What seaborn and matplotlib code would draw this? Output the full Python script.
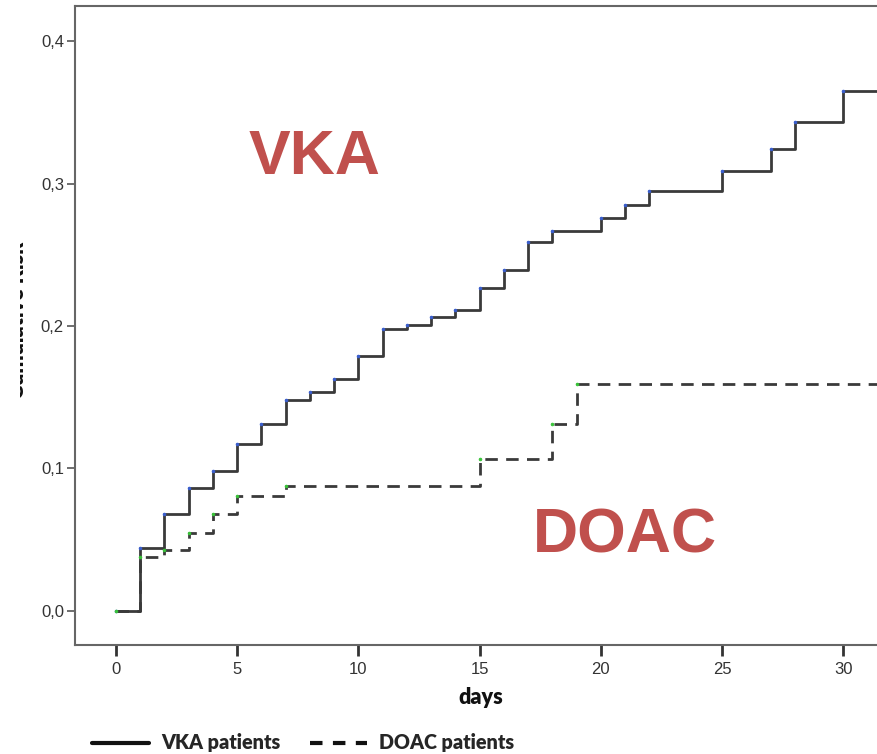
# cumulative risk curves VKA vs DOAC patients

import seaborn as sns
import matplotlib.pyplot as plt
import pandas as pd
import numpy as np
from matplotlib.lines import Line2D
from matplotlib.transforms import Bbox, TransformedBbox

# step curve data (day of event, cumulative risk after that day)
vka_days = [0, 1, 2, 3, 4, 5, 6, 7, 8, 9, 10, 11, 12, 13, 14, 15, 16, 17, 18,
            20, 21, 22, 25, 27, 28, 30, 33]
vka_risk = [0.0, 0.044, 0.068, 0.086, 0.098, 0.117, 0.131, 0.148, 0.154, 0.163,
            0.179, 0.198, 0.201, 0.206, 0.211, 0.227, 0.239, 0.259, 0.267,
            0.276, 0.285, 0.295, 0.309, 0.324, 0.343, 0.365, 0.365]

doac_days = [0, 1, 2, 3, 4, 5, 7, 15, 18, 19, 33]
doac_risk = [0.0, 0.038, 0.043, 0.055, 0.068, 0.081, 0.088, 0.107, 0.131,
             0.159, 0.159]

x_ticks = [0, 5, 10, 15, 20, 25, 30]
y_ticks = [0.0, 0.1, 0.2, 0.3, 0.4]
y_labels = ["0,0", "0,1", "0,2", "0,3", "0,4"]

vka = pd.DataFrame({"days": vka_days, "risk": vka_risk})
doac = pd.DataFrame({"days": doac_days, "risk": doac_risk})

sns.set_style("white")
plt.rcParams["font.family"] = ["Liberation Sans", "DejaVu Sans"]
bold_font = ["Lato", "DejaVu Sans"]

fig = plt.figure(figsize=(8.77, 7.54), dpi=100)
# axes runs off the right edge like the cropped original
ax = fig.add_axes([75 / 877, 109 / 754, 829 / 877, 639 / 754])

line_col = "#3a3a3a"
sns.lineplot(data=vka, x="days", y="risk", ax=ax, drawstyle="steps-post",
             color=line_col, lw=2, estimator=None, sort=False,
             marker="o", markersize=1.8, markerfacecolor="#3a5fd0",
             markeredgecolor="#3a5fd0")
sns.lineplot(data=doac, x="days", y="risk", ax=ax, drawstyle="steps-post",
             color=line_col, lw=2, estimator=None, sort=False,
             linestyle=(0, (4.5, 3)),
             marker="o", markersize=1.8, markerfacecolor="#39c439",
             markeredgecolor="#39c439")

ax.set_xlim(-1.69, 32.5)
ax.set_ylim(-0.0239, 0.4246)
ax.set_xticks(x_ticks)
ax.set_yticks(y_ticks)
ax.set_yticklabels(y_labels)
ax.set_xlabel("")
ax.set_ylabel("")
ax.tick_params(axis="x", direction="out", length=8, width=2, color="#333333",
               labelsize=12, labelcolor="#333333", pad=4, bottom=True)
ax.tick_params(axis="y", direction="out", length=6, width=1.2, color="#555555",
               labelsize=12, labelcolor="#333333", pad=2, left=True)
for s in ax.spines.values():
    s.set_color("#666666")
    s.set_linewidth(1.5)

# group labels on the plot
ax.text(8.2, 0.318, "VKA", color="#c0504d", fontsize=45, fontweight="bold",
        ha="center", va="center")
ax.text(20.99, 0.0525, "DOAC", color="#c0504d", fontsize=45, fontweight="bold",
        ha="center", va="center")

# axis titles
fig.text(481 / 877, 1 - 697 / 754, "days", fontsize=15.5, fontweight="heavy",
         family=bold_font, ha="center", va="center", color="#111111")
ylab = fig.text(28 / 877, 1 - 320 / 754, "Cumulative Risk", fontsize=15.5,
                fontweight="heavy", family=bold_font, rotation=90, ha="right",
                va="center", color="#111111")
ylab.set_clip_box(TransformedBbox(Bbox([[20 / 877, 0], [1, 1]]), fig.transFigure))
ylab.set_clip_on(True)

# legend under the plot
handles = [Line2D([0], [0], color="#111111", lw=3),
           Line2D([0], [0], color="#111111", lw=3, linestyle=(0, (3, 2.5)))]
fig.legend(handles, ["VKA patients", "DOAC patients"], ncol=2, frameon=False,
           loc="center left", bbox_to_anchor=(74 / 877, 1 - 743 / 754),
           prop={"family": bold_font, "weight": "heavy", "size": 14.2},
           handlelength=2.9, handletextpad=0.6, columnspacing=1.5)

plt.savefig("out.png", dpi=100)
